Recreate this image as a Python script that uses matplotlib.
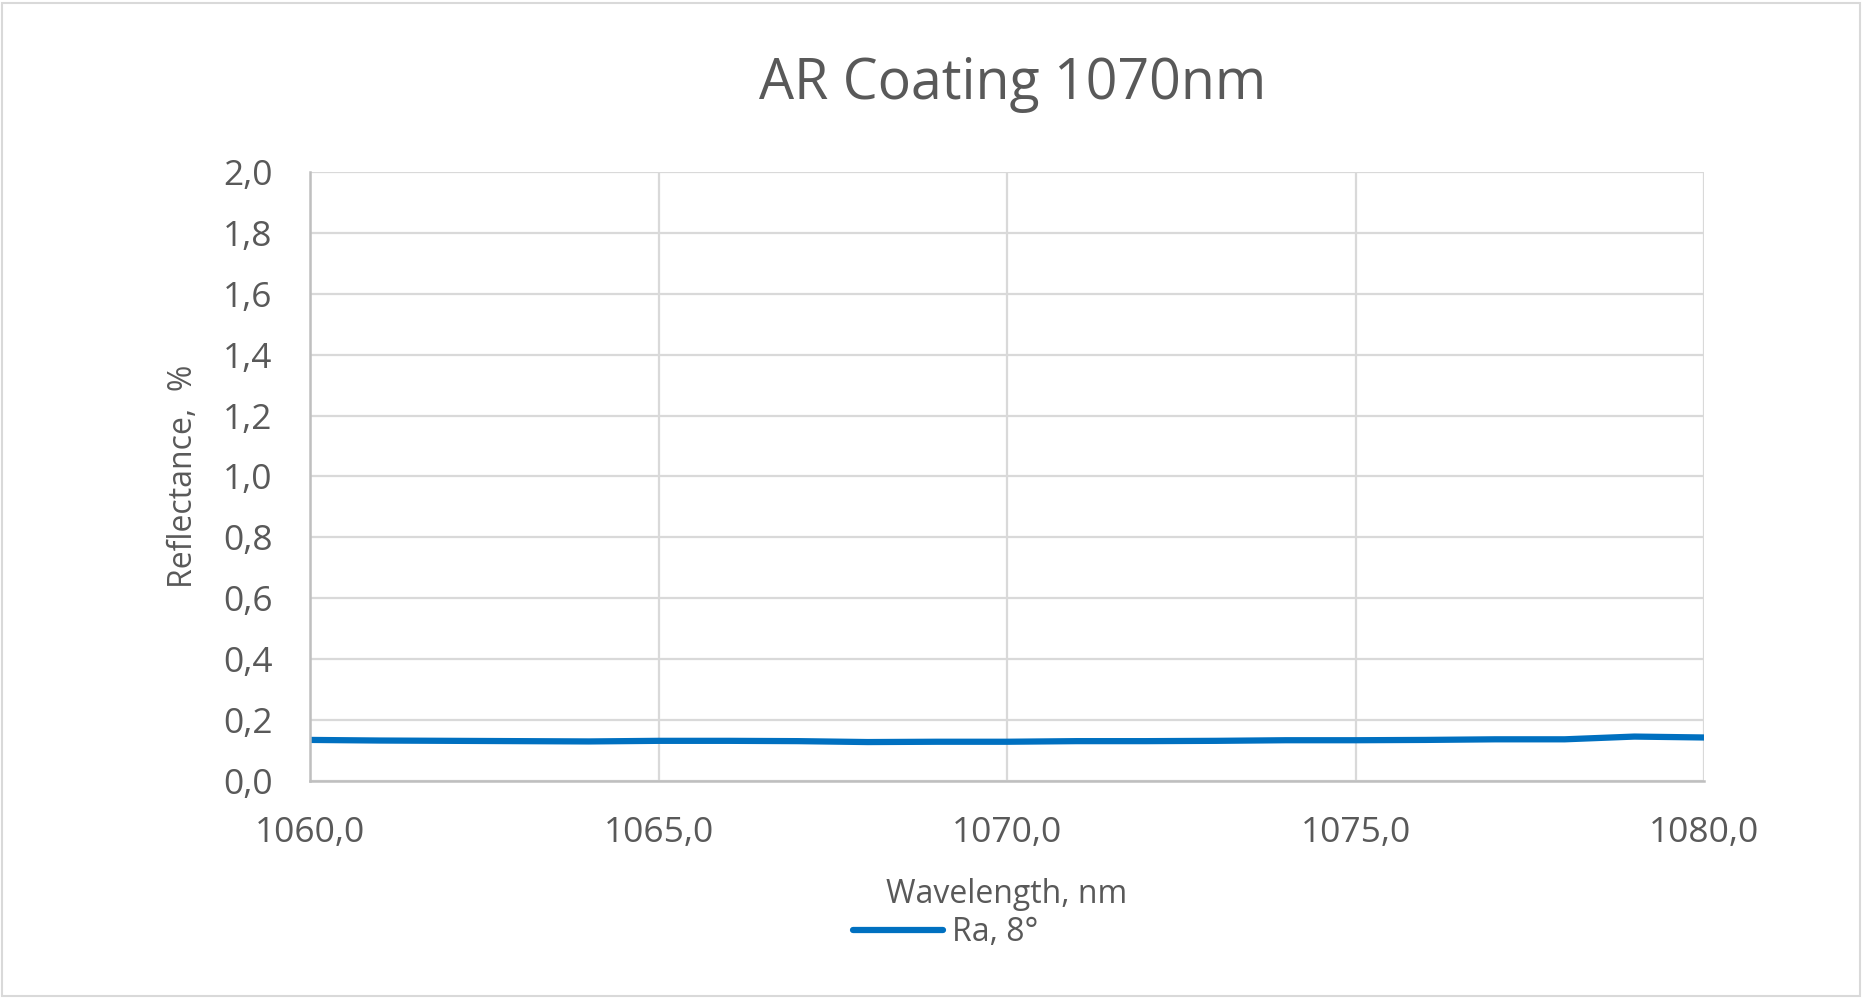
import numpy as np
import matplotlib.pyplot as plt
from matplotlib.patches import Rectangle

# reflectance data
wavelength = [1060, 1061, 1062, 1063, 1064, 1065, 1066, 1067, 1068, 1069, 1070,
              1071, 1072, 1073, 1074, 1075, 1076, 1077, 1078, 1079, 1080]
reflectance = [0.135, 0.133, 0.132, 0.131, 0.130, 0.132, 0.132, 0.131, 0.128, 0.129, 0.129,
               0.131, 0.131, 0.132, 0.134, 0.134, 0.135, 0.137, 0.137, 0.146, 0.143]
x_ticks = [1060, 1065, 1070, 1075, 1080]
y_ticks = [0.0, 0.2, 0.4, 0.6, 0.8, 1.0, 1.2, 1.4, 1.6, 1.8, 2.0]

text_col = '#595959'
plt.rcParams['font.family'] = ['Open Sans', 'DejaVu Sans']

fig = plt.figure(figsize=(18.64, 9.98), dpi=100)
ax = fig.add_axes([0.1663, 0.2174, 0.9142 - 0.1663, 0.8277 - 0.2174])

line, = ax.plot(wavelength, reflectance, color='#0070C0', lw=4.5,
                solid_capstyle='round', label='Ra, 8°')

ax.set_xlim(1060, 1080)
ax.set_ylim(0, 2.0)
ax.set_xticks(x_ticks)
ax.set_yticks(y_ticks)
ax.set_xticklabels([('%.1f' % v).replace('.', ',') for v in x_ticks])
ax.set_yticklabels([('%.1f' % v).replace('.', ',') for v in y_ticks])
ax.tick_params(length=0, labelsize=25.5, colors=text_col)
ax.tick_params(axis='x', pad=25)
ax.tick_params(axis='y', pad=27)

ax.grid(True, color='#D9D9D9', lw=1.6)
ax.set_axisbelow(True)
for s in ['top', 'right']:
    ax.spines[s].set_visible(False)
for s in ['left', 'bottom']:
    ax.spines[s].set_color('#BFBFBF')
    ax.spines[s].set_linewidth(1.8)

ax.set_ylabel('Reflectance,  %', fontsize=23, color=text_col)
ax.set_xlabel('Wavelength, nm', fontsize=23, color=text_col)
ax.yaxis.set_label_coords(-0.0904, 0.5)
ax.xaxis.set_label_coords(0.5, -0.1855)
ax.xaxis.label.set_va('center')
ax.yaxis.label.set_va('center')
fig.text(0.543, 0.915, 'AR Coating 1070nm', ha='center', va='center',
         fontsize=40, color=text_col)

leg = fig.legend(handles=[line], loc='center', bbox_to_anchor=(0.5075, 0.0655),
                 frameon=False, fontsize=23, handlelength=2.8, handletextpad=0.3)
for t in leg.get_texts():
    t.set_color(text_col)

fig.patches.append(Rectangle((0.001, 0.002), 0.997, 0.995, transform=fig.transFigure,
                             fill=False, edgecolor='#D9D9D9', lw=1.5))

fig.savefig('out.png', dpi=100, facecolor='white')
